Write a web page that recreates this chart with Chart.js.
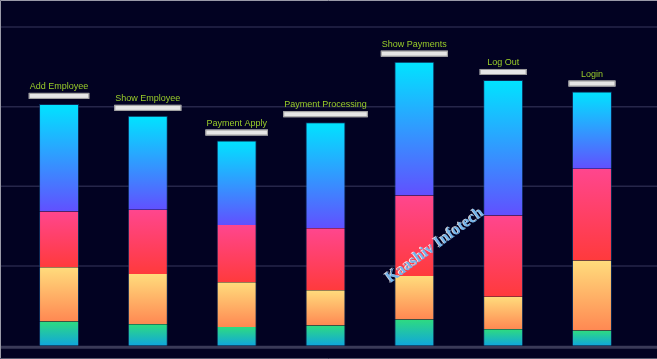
<!DOCTYPE html>
<html>
<head>
<meta charset="utf-8">
<script src="https://cdn.jsdelivr.net/npm/chart.js@4/dist/chart.umd.min.js"></script>
<style>
  html, body { margin: 0; padding: 0; background: #020222; }
  #wrap { width: 657px; height: 359px; }
</style>
</head>
<body>
<div id="wrap"><canvas id="chart" width="657" height="359"></canvas></div>
<script>
// data
const categories = ["Add Employee", "Show Employee", "Payment Apply", "Payment Processing", "Show Payments", "Log Out", "Login"];
const greenVals = [6.1, 5.4, 4.7, 5.1, 6.6, 4.1, 3.8];
const orangeVals = [13.6, 12.6, 11.2, 8.8, 10.9, 8.2, 17.6];
const pinkVals = [14.0, 16.1, 14.4, 15.6, 20.2, 20.4, 23.0];
const blueVals = [27.0, 23.6, 21.2, 26.6, 33.6, 34.0, 19.4];
const yTicks = [0, 20, 40, 60, 80];

const stackOrder = [greenVals, orangeVals, pinkVals, blueVals];
const gradStops = [
  ["#2edb80", "#10a6dc"],
  ["#ffdc7c", "#ff8852"],
  ["#ff468e", "#ff3a3c"],
  ["#00e4ff", "#6150ff"]
];

// vertical gradient for each stacked segment
function segmentFill(ctx) {
  const chart = ctx.chart;
  const y = chart.scales.y;
  const ds = ctx.datasetIndex;
  const i = ctx.dataIndex;
  if (!chart.chartArea || !y || i === undefined) return gradStops[ds][0];
  let base = 0;
  for (let k = 0; k < ds; k++) base += stackOrder[k][i];
  const top = base + stackOrder[ds][i];
  const y0 = y.getPixelForValue(top);
  const y1 = y.getPixelForValue(base);
  const g = chart.ctx.createLinearGradient(0, y0, 0, y1);
  g.addColorStop(0, gradStops[ds][0]);
  g.addColorStop(1, gradStops[ds][1]);
  return g;
}

const backdrop = {
  id: "backdrop",
  beforeDraw(chart) {
    const c = chart.ctx;
    c.save();
    c.fillStyle = "#020222";
    c.fillRect(0, 0, chart.width, chart.height);
    const y = chart.scales.y;
    yTicks.forEach((t) => {
      const py = y.getPixelForValue(t);
      c.beginPath();
      if (t === 0) {
        c.strokeStyle = "#3a3a58";
        c.lineWidth = 3;
        c.moveTo(0, py + 1.5);
      } else {
        c.strokeStyle = "#26264a";
        c.lineWidth = 1.5;
        c.moveTo(0, py);
      }
      c.lineTo(chart.width, t === 0 ? py + 1.5 : py);
      c.stroke();
    });
    // frame
    c.strokeStyle = "#9a9aa8";
    c.lineWidth = 1;
    c.beginPath();
    c.moveTo(0.5, chart.height);
    c.lineTo(0.5, 0.5);
    c.lineTo(chart.width, 0.5);
    c.stroke();
    c.strokeStyle = "#5a5a70";
    c.beginPath();
    c.moveTo(0, chart.height - 0.5);
    c.lineTo(chart.width, chart.height - 0.5);
    c.stroke();
    c.restore();
  }
};

const topLabels = {
  id: "topLabels",
  afterDatasetsDraw(chart) {
    const c = chart.ctx;
    const meta = chart.getDatasetMeta(chart.data.datasets.length - 1);
    c.save();
    c.font = "9px 'Liberation Sans', Arial, sans-serif";
    c.textAlign = "center";
    c.textBaseline = "alphabetic";
    meta.data.forEach((bar, i) => {
      const w = Math.max(c.measureText(categories[i]).width + 2, 47);
      const capTop = bar.y - 11;
      c.fillStyle = "#e6e6e6";
      c.fillRect(bar.x - w / 2, capTop, w, 6);
      c.strokeStyle = "#9a9a9a";
      c.lineWidth = 1;
      c.strokeRect(bar.x - w / 2 + 0.5, capTop + 0.5, w - 1, 5);
      c.fillStyle = "#9acd2a";
      c.fillText(categories[i], bar.x, capTop - 4);
    });

    // watermark
    c.translate(434, 244);
    c.rotate(-36 * Math.PI / 180);
    c.font = "bold 16px 'Liberation Serif', 'Times New Roman', serif";
    c.fillStyle = "rgba(255,255,255,0.85)";
    c.fillText("Kaashiv Infotech", -0.8, 5);
    c.fillStyle = "#74b4ea";
    c.fillText("Kaashiv Infotech", 0, 6);
    c.restore();
  }
};

const datasets = stackOrder.map((vals, k) => ({
  data: vals,
  backgroundColor: segmentFill,
  borderColor: "rgba(20,70,120,0.6)",
  borderWidth: k === 3 ? { left: 1, right: 1, top: 1, bottom: 0 } : { left: 1, right: 1, top: 0, bottom: 0 },
  borderSkipped: false,
  categoryPercentage: 1,
  barPercentage: 0.45
}));

new Chart(document.getElementById("chart"), {
  type: "bar",
  data: { labels: categories, datasets: datasets },
  plugins: [backdrop, topLabels],
  options: {
    responsive: false,
    devicePixelRatio: 1,
    animation: false,
    layout: { padding: { left: 14.6, right: 20.6, top: 27, bottom: 13.3 } },
    plugins: { legend: { display: false }, tooltip: { enabled: false } },
    scales: {
      x: { stacked: true, display: false },
      y: { stacked: true, display: false, min: 0, max: 80 }
    }
  }
});
</script>
</body>
</html>
